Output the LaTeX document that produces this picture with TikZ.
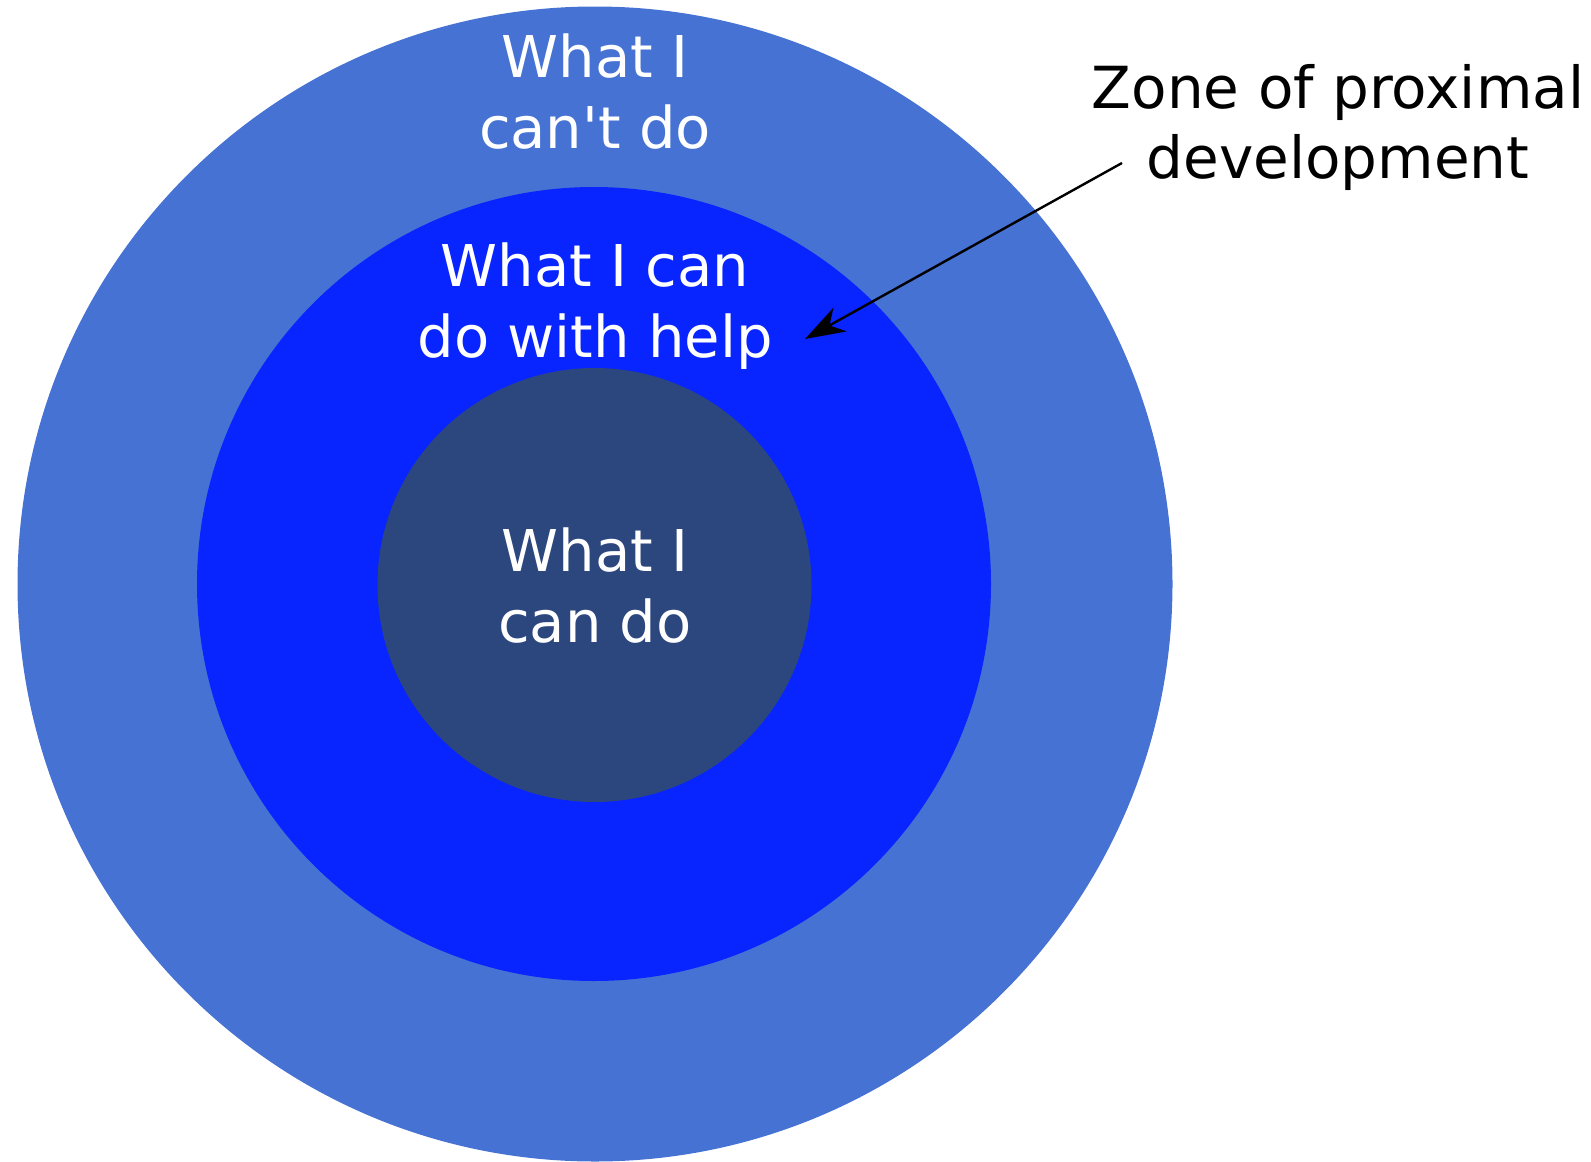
\documentclass[tikz,border=0pt]{standalone}
\usepackage{fontspec}
\setmainfont{DejaVu Sans}[Ligatures=TeXOff]
\usetikzlibrary{arrows.meta}
\definecolor{outerblue}{RGB}{70,114,212}
\definecolor{midblue}{RGB}{8,36,255}
\definecolor{innerblue}{RGB}{44,70,126}
\begin{document}
\begin{tikzpicture}[x=1pt,y=-1pt,
  zone/.style={circle,inner sep=0pt,minimum size=#1},
  ringtext/.style={text=white,align=center,inner sep=0pt,
    font=\fontsize{57.6}{71}\selectfont},
  caption/.style={text=black,align=center,inner sep=0pt,
    font=\fontsize{58}{70}\selectfont},
  pointer/.style={draw=black,line width=2.4pt,
    -{Stealth[length=40pt,width=27pt,inset=12pt]}}]
  \useasboundingbox (0,0) rectangle (1591,1162);
  % nested zones
  \node[zone=1155pt,fill=outerblue] (outer) at (595,584) {};
  \node[zone=794pt,fill=midblue]    (middle) at (594,584) {};
  \node[zone=434pt,fill=innerblue]  (inner) at (594.5,585) {};
  % zone labels (base anchor sits on the last line)
  \node[ringtext,anchor=base] (cant) at (595,148) {What I\\can't do};
  \node[ringtext,anchor=base] (help) at (595,357) {What I can\\do with help};
  \node[ringtext,anchor=base] (can)  at (595,642) {What I\\can do};
  % callout
  \node[caption,anchor=base] (zpd) at (1338,178) {Zone of proximal\\development};
  \coordinate (tail) at (1122,163);
  \coordinate (tip) at (805,339);
  \draw[pointer] (tail) -- (tip);
\end{tikzpicture}
\end{document}
